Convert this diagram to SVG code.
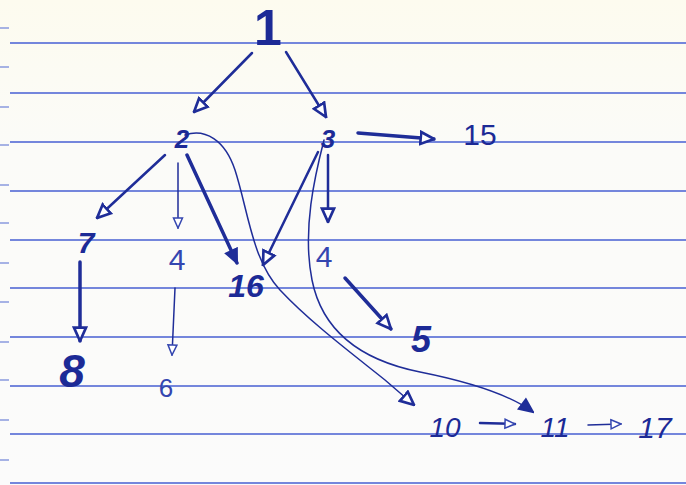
<svg xmlns="http://www.w3.org/2000/svg" width="686" height="485" viewBox="0 0 686 485">
<defs>
<style>
.rule{stroke:#7486dc;stroke-width:1.8}
.tick{stroke:#8a9ade;stroke-width:1.5}
.n{font-family:"Liberation Sans","DejaVu Sans",sans-serif;fill:#1c2a96;text-anchor:middle;font-style:italic}
.up{font-style:normal}
.thin{fill:#3446b0;font-style:normal;font-weight:normal}
.bold{font-weight:bold}
.c{fill:none;stroke:#1f2d98;stroke-linecap:round}
.w1{stroke-width:1.5}
.w2{stroke-width:2.5}
.w3{stroke-width:3.5}
</style>
<marker id="open" markerUnits="userSpaceOnUse" markerWidth="16" markerHeight="16" viewBox="0 0 12 12" refX="11" refY="6" orient="auto">
<path d="M1,1.5 L11,6 L1,10.5 z" fill="#fff" stroke="#1f2d98" stroke-width="2"/>
</marker>
<marker id="opens" markerUnits="userSpaceOnUse" markerWidth="12" markerHeight="12" viewBox="0 0 12 12" refX="11" refY="6" orient="auto">
<path d="M1,1.5 L11,6 L1,10.5 z" fill="#fff" stroke="#3446b0" stroke-width="1.5"/>
</marker>
<marker id="fill" markerUnits="userSpaceOnUse" markerWidth="16" markerHeight="16" viewBox="0 0 12 12" refX="11" refY="6" orient="auto">
<path d="M1,1.5 L11,6 L1,10.5 z" fill="#1f2d98" stroke="#1f2d98" stroke-width="1.5"/>
</marker>
<linearGradient id="paper" x1="0" y1="0" x2="0" y2="1">
<stop offset="0" stop-color="#fdfbef"/>
<stop offset="0.3" stop-color="#fbfbf8"/>
<stop offset="1" stop-color="#fbfbfb"/>
</linearGradient>
</defs>
<rect width="686" height="485" fill="url(#paper)"/>
<g id="paper-lines">
<line class="rule" x1="10" y1="43" x2="686" y2="43"/>
<line class="rule" x1="10" y1="93" x2="686" y2="93"/>
<line class="rule" x1="10" y1="142" x2="686" y2="142"/>
<line class="rule" x1="10" y1="191" x2="686" y2="191"/>
<line class="rule" x1="10" y1="240" x2="686" y2="240"/>
<line class="rule" x1="10" y1="288" x2="686" y2="288"/>
<line class="rule" x1="10" y1="337" x2="686" y2="337"/>
<line class="rule" x1="10" y1="386" x2="686" y2="386"/>
<line class="rule" x1="10" y1="434" x2="686" y2="434"/>
<line class="rule" x1="10" y1="483" x2="686" y2="483"/>
<line class="tick" x1="0" y1="28" x2="9" y2="28"/>
<line class="tick" x1="0" y1="67" x2="9" y2="67"/>
<line class="tick" x1="0" y1="107" x2="9" y2="107"/>
<line class="tick" x1="0" y1="145" x2="9" y2="145"/>
<line class="tick" x1="0" y1="185" x2="9" y2="185"/>
<line class="tick" x1="0" y1="223" x2="9" y2="223"/>
<line class="tick" x1="0" y1="263" x2="9" y2="263"/>
<line class="tick" x1="0" y1="302" x2="9" y2="302"/>
<line class="tick" x1="0" y1="342" x2="9" y2="342"/>
<line class="tick" x1="0" y1="380" x2="9" y2="380"/>
<line class="tick" x1="0" y1="420" x2="9" y2="420"/>
<line class="tick" x1="0" y1="460" x2="9" y2="460"/>
</g>
<g id="connectors">
<line class="c w2" x1="252" y1="53" x2="194" y2="112" marker-end="url(#open)"/>
<line class="c w2" x1="286" y1="52" x2="326" y2="117" marker-end="url(#open)"/>
<line class="c w3" x1="358" y1="133" x2="434" y2="139" marker-end="url(#open)"/>
<line class="c w2" x1="165" y1="155" x2="97" y2="218" marker-end="url(#open)"/>
<line class="c w3" x1="80" y1="262" x2="80" y2="341" marker-end="url(#open)"/>
<line class="c w1" x1="178" y1="163" x2="178" y2="228" marker-end="url(#opens)"/>
<line class="c w1" x1="175" y1="288" x2="172" y2="355" marker-end="url(#opens)"/>
<line class="c w3" x1="187" y1="155" x2="237" y2="263" marker-end="url(#fill)"/>
<line class="c w2" x1="318" y1="152" x2="263" y2="265" marker-end="url(#open)"/>
<line class="c w2" x1="328" y1="155" x2="328" y2="222" marker-end="url(#open)"/>
<line class="c w3" x1="345" y1="278" x2="391" y2="329" marker-end="url(#open)"/>
<path class="c w1" d="M185,135 C205,128 225,140 235,170 C248,210 252,260 280,290 C310,322 350,352 385,380 L414,405" marker-end="url(#open)"/>
<path class="c w1" d="M324,140 C315,175 302,230 312,280 C322,330 360,360 420,372 C470,382 510,395 533,412" marker-end="url(#fill)"/>
<line class="c w2" x1="480" y1="423" x2="515" y2="424" marker-end="url(#opens)"/>
<line class="c w1" x1="588" y1="425" x2="621" y2="424" marker-end="url(#opens)"/>
</g>
<g id="node-1"><text class="n up bold" x="268" y="45" font-size="50">1</text></g>
<g id="node-2"><text class="n bold" x="182" y="148" font-size="26">2</text></g>
<g id="node-3"><text class="n bold" x="328" y="148" font-size="26">3</text></g>
<g id="node-15"><text class="n up" x="480" y="145" font-size="30">15</text></g>
<g id="node-7"><text class="n bold" x="86" y="253" font-size="30">7</text></g>
<g id="node-8"><text class="n bold" x="72" y="387" font-size="46">8</text></g>
<g id="node-4a"><text class="n thin" x="177" y="270" font-size="30">4</text></g>
<g id="node-6"><text class="n thin" x="166" y="397" font-size="26">6</text></g>
<g id="node-16"><text class="n bold" x="246" y="297" font-size="32">16</text></g>
<g id="node-4b"><text class="n thin" x="324" y="267" font-size="30">4</text></g>
<g id="node-5"><text class="n bold" x="421" y="352" font-size="36">5</text></g>
<g id="node-10"><text class="n" x="445" y="437" font-size="28">10</text></g>
<g id="node-11"><text class="n" x="555" y="437" font-size="28">11</text></g>
<g id="node-17"><text class="n" x="655" y="438" font-size="30">17</text></g>
</svg>
